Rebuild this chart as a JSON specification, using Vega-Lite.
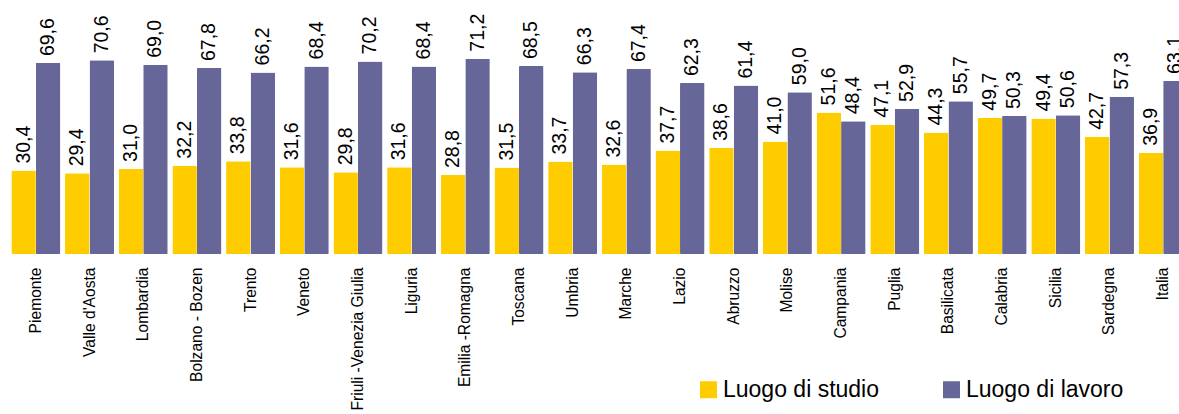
{
  "$schema": "https://vega.github.io/schema/vega-lite/v6.json",
  "width": 1170,
  "height": 254,
  "padding": {"left": 9, "top": 0, "right": 0, "bottom": 160},
  "autosize": {"type": "none"},
  "background": "white",
  "config": {
    "view": {"stroke": null},
    "font": "Liberation Sans",
    "locale": {"number": {"decimal": ",", "thousands": ".", "grouping": [3], "currency": ["", " €"]}}
  },
  "data": {
    "values": [
      {"regione": "Piemonte", "serie": "Luogo di studio", "valore": 30.4},
      {"regione": "Piemonte", "serie": "Luogo di lavoro", "valore": 69.6},
      {"regione": "Valle d'Aosta", "serie": "Luogo di studio", "valore": 29.4},
      {"regione": "Valle d'Aosta", "serie": "Luogo di lavoro", "valore": 70.6},
      {"regione": "Lombardia", "serie": "Luogo di studio", "valore": 31.0},
      {"regione": "Lombardia", "serie": "Luogo di lavoro", "valore": 69.0},
      {"regione": "Bolzano - Bozen", "serie": "Luogo di studio", "valore": 32.2},
      {"regione": "Bolzano - Bozen", "serie": "Luogo di lavoro", "valore": 67.8},
      {"regione": "Trento", "serie": "Luogo di studio", "valore": 33.8},
      {"regione": "Trento", "serie": "Luogo di lavoro", "valore": 66.2},
      {"regione": "Veneto", "serie": "Luogo di studio", "valore": 31.6},
      {"regione": "Veneto", "serie": "Luogo di lavoro", "valore": 68.4},
      {"regione": "Friuli -Venezia Giulia", "serie": "Luogo di studio", "valore": 29.8},
      {"regione": "Friuli -Venezia Giulia", "serie": "Luogo di lavoro", "valore": 70.2},
      {"regione": "Liguria", "serie": "Luogo di studio", "valore": 31.6},
      {"regione": "Liguria", "serie": "Luogo di lavoro", "valore": 68.4},
      {"regione": "Emilia -Romagna", "serie": "Luogo di studio", "valore": 28.8},
      {"regione": "Emilia -Romagna", "serie": "Luogo di lavoro", "valore": 71.2},
      {"regione": "Toscana", "serie": "Luogo di studio", "valore": 31.5},
      {"regione": "Toscana", "serie": "Luogo di lavoro", "valore": 68.5},
      {"regione": "Umbria", "serie": "Luogo di studio", "valore": 33.7},
      {"regione": "Umbria", "serie": "Luogo di lavoro", "valore": 66.3},
      {"regione": "Marche", "serie": "Luogo di studio", "valore": 32.6},
      {"regione": "Marche", "serie": "Luogo di lavoro", "valore": 67.4},
      {"regione": "Lazio", "serie": "Luogo di studio", "valore": 37.7},
      {"regione": "Lazio", "serie": "Luogo di lavoro", "valore": 62.3},
      {"regione": "Abruzzo", "serie": "Luogo di studio", "valore": 38.6},
      {"regione": "Abruzzo", "serie": "Luogo di lavoro", "valore": 61.4},
      {"regione": "Molise", "serie": "Luogo di studio", "valore": 41.0},
      {"regione": "Molise", "serie": "Luogo di lavoro", "valore": 59.0},
      {"regione": "Campania", "serie": "Luogo di studio", "valore": 51.6},
      {"regione": "Campania", "serie": "Luogo di lavoro", "valore": 48.4},
      {"regione": "Puglia", "serie": "Luogo di studio", "valore": 47.1},
      {"regione": "Puglia", "serie": "Luogo di lavoro", "valore": 52.9},
      {"regione": "Basilicata", "serie": "Luogo di studio", "valore": 44.3},
      {"regione": "Basilicata", "serie": "Luogo di lavoro", "valore": 55.7},
      {"regione": "Calabria", "serie": "Luogo di studio", "valore": 49.7},
      {"regione": "Calabria", "serie": "Luogo di lavoro", "valore": 50.3},
      {"regione": "Sicilia", "serie": "Luogo di studio", "valore": 49.4},
      {"regione": "Sicilia", "serie": "Luogo di lavoro", "valore": 50.6},
      {"regione": "Sardegna", "serie": "Luogo di studio", "valore": 42.7},
      {"regione": "Sardegna", "serie": "Luogo di lavoro", "valore": 57.3},
      {"regione": "Italia", "serie": "Luogo di studio", "valore": 36.9},
      {"regione": "Italia", "serie": "Luogo di lavoro", "valore": 63.1}
    ]
  },
  "encoding": {
    "x": {
      "field": "regione",
      "type": "nominal",
      "sort": null,
      "scale": {"paddingInner": 0.087, "paddingOuter": 0.0435, "range": [0, 1181]},
      "axis": {
        "title": null,
        "labelAngle": -90,
        "labelAlign": "right",
        "labelBaseline": "middle",
        "labelPadding": 13,
        "labelFontSize": 15.6,
        "labelColor": "#000000",
        "labelFont": "Liberation Sans",
        "ticks": false,
        "domain": false,
        "labelOverlap": false,
        "labelLimit": 0
      }
    },
    "xOffset": {
      "field": "serie",
      "type": "nominal",
      "sort": ["Luogo di studio", "Luogo di lavoro"],
      "scale": {"paddingInner": 0, "paddingOuter": 0}
    },
    "y": {
      "field": "valore",
      "type": "quantitative",
      "scale": {"domain": [0, 92.6], "nice": false, "zero": true},
      "axis": null
    }
  },
  "layer": [
    {
      "mark": {"type": "bar", "cornerRadius": 1},
      "encoding": {
        "color": {
          "field": "serie",
          "type": "nominal",
          "sort": ["Luogo di studio", "Luogo di lavoro"],
          "scale": {"domain": ["Luogo di studio", "Luogo di lavoro"], "range": ["#FFCC00", "#666699"]},
          "legend": {
            "title": null,
            "orient": "none",
            "direction": "horizontal",
            "legendX": 688,
            "legendY": 378,
            "padding": 0,
            "symbolType": "square",
            "symbolSize": 289,
            "symbolStrokeWidth": 0,
            "symbolOpacity": 1,
            "labelFontSize": 23,
            "labelFont": "Liberation Sans",
            "labelColor": "#000000",
            "labelOffset": 3,
            "columnPadding": 60,
            "labelLimit": 0
          }
        }
      }
    },
    {
      "mark": {"type": "text", "angle": 270, "align": "left", "baseline": "middle", "dx": 7, "fontSize": 19.5, "font": "Liberation Sans", "color": "#000000"},
      "encoding": {
        "text": {"field": "valore", "type": "quantitative", "format": ".1f"}
      }
    }
  ]
}
